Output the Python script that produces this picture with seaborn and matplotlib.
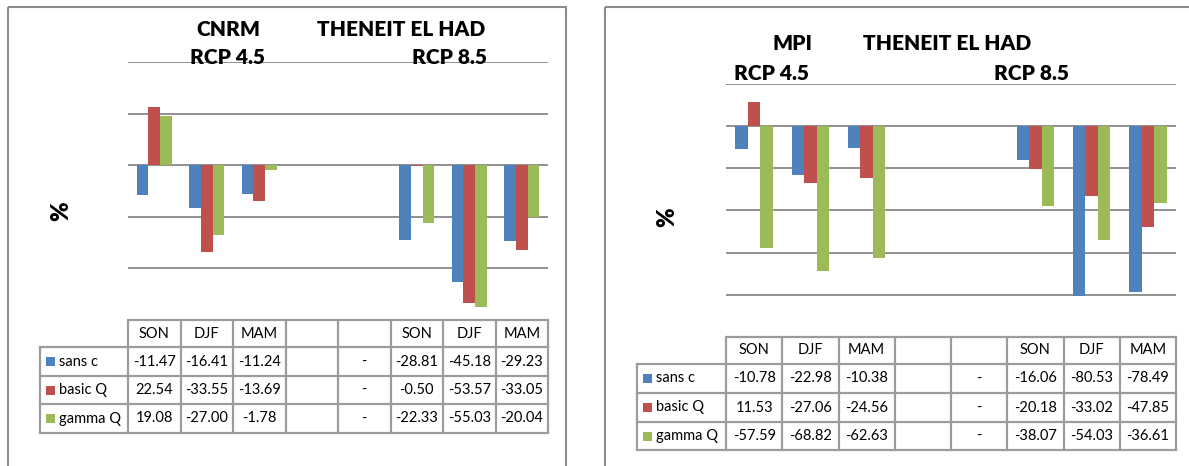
import numpy as np
import pandas as pd
import matplotlib
matplotlib.use("Agg")
import matplotlib.pyplot as plt
from matplotlib.patches import Rectangle
import seaborn as sns

nan = np.nan

# Season columns (two empty separator columns between the scenarios)
seasons = ["SON", "DJF", "MAM", "", "", "SON", "DJF", "MAM"]
separator_text = {3: "", 4: "-"}
series = ["sans c", "basic Q", "gamma Q"]
colors = ["#4F81BD", "#C0504D", "#9BBB59"]

# CNRM, Theneit El Had
cnrm_sans_c = [-11.47, -16.41, -11.24, nan, nan, -28.81, -45.18, -29.23]
cnrm_basic_q = [22.54, -33.55, -13.69, nan, nan, -0.50, -53.57, -33.05]
cnrm_gamma_q = [19.08, -27.00, -1.78, nan, nan, -22.33, -55.03, -20.04]

# MPI, Theneit El Had
mpi_sans_c = [-10.78, -22.98, -10.38, nan, nan, -16.06, -80.53, -78.49]
mpi_basic_q = [11.53, -27.06, -24.56, nan, nan, -20.18, -33.02, -47.85]
mpi_gamma_q = [-57.59, -68.82, -62.63, nan, nan, -38.07, -54.03, -36.61]

W, H = 1189, 466
GRID = "#878787"
TABLE = "#9c9c9c"
FRAME = "#8c8c8c"

sns.set_theme(style="white")
plt.rcParams["font.family"] = ["Lato", "DejaVu Sans"]

fig = plt.figure(figsize=(W / 100, H / 100), dpi=100)
fig.patch.set_facecolor("white")

# Overlay in pixel coordinates for frames, titles and the data table
ov = fig.add_axes([0, 0, 1, 1], zorder=5)
ov.set_xlim(0, W)
ov.set_ylim(H, 0)
ov.axis("off")


def draw_panel(values, ylim, yticks, box, rows, label_left, frame, titles, pct_pos):
    x0, y0, x1, y1 = box
    ax = fig.add_axes([x0 / W, 1 - y1 / H, (x1 - x0) / W, (y1 - y0) / H])
    slots = [str(i) for i in range(len(seasons))]
    records = []
    for name, vals in zip(series, values):
        for s, v in zip(slots, vals):
            if not np.isnan(v):
                records.append({"slot": s, "value": v, "series": name})
    df = pd.DataFrame(records)
    sns.barplot(data=df, x="slot", y="value", hue="series", order=slots,
                hue_order=series, palette=dict(zip(series, colors)),
                width=0.67, saturation=1, linewidth=0, errorbar=None,
                legend=False, ax=ax, zorder=3)
    ax.set_xlim(-0.5, len(slots) - 0.5)
    ax.set_ylim(*ylim)
    ax.set_yticks(yticks)
    ax.grid(axis="y", color=GRID, linewidth=1.3)
    ax.grid(axis="x", visible=False)
    ax.set_axisbelow(True)
    for sp in ax.spines.values():
        sp.set_visible(False)
    ax.tick_params(left=False, bottom=False, labelleft=False, labelbottom=False)
    ax.set_xlabel("")
    ax.set_ylabel("")
    ax.patch.set_alpha(0)

    # panel frame
    fx0, fy0, fx1 = frame
    ov.add_patch(Rectangle((fx0, fy0), fx1 - fx0, H + 10 - fy0, fill=False,
                           edgecolor=FRAME, linewidth=1.5))

    # titles
    for text, tx, ty in titles:
        ov.text(tx, ty, text, ha="center", va="center", fontsize=15,
                fontweight="heavy", color="black")
    ov.text(pct_pos[0], pct_pos[1], "%", ha="center", va="center", fontsize=17,
            fontweight="heavy", rotation=90, color="black")

    # data table
    n = len(seasons)
    edges = [x0 + (x1 - x0) * i / n for i in range(n + 1)]
    top, head_bot = rows[0], rows[1]
    bottom = rows[-1]
    ov.plot([x0, x1], [top, top], color=TABLE, lw=1.6, solid_capstyle="projecting")
    for y in rows[1:]:
        ov.plot([label_left, x1], [y, y], color=TABLE, lw=1.6, solid_capstyle="projecting")
    for xe in edges:
        ov.plot([xe, xe], [top, bottom], color=TABLE, lw=1.6)
    ov.plot([label_left, label_left], [head_bot, bottom], color=TABLE, lw=1.6)

    for i, s in enumerate(seasons):
        cx = (edges[i] + edges[i + 1]) / 2
        ov.text(cx, (top + head_bot) / 2, s, ha="center", va="center",
                fontsize=10.5, color="black")
    for r, (name, vals, col) in enumerate(zip(series, values, colors)):
        ya, yb = rows[r + 1], rows[r + 2]
        cy = (ya + yb) / 2
        ov.add_patch(Rectangle((label_left + 6, cy - 4.5), 9, 9,
                               facecolor=col, edgecolor="none"))
        ov.text(label_left + 19, cy, name, ha="left", va="center",
                fontsize=10.5, color="black")
        for i, v in enumerate(vals):
            cx = (edges[i] + edges[i + 1]) / 2
            txt = separator_text.get(i, "") if np.isnan(v) else f"{v:.2f}"
            ov.text(cx, cy, txt, ha="center", va="center", fontsize=10.5,
                    color="black")


draw_panel(values=[cnrm_sans_c, cnrm_basic_q, cnrm_gamma_q],
           ylim=(-60, 40), yticks=[40, 20, 0, -20, -40],
           box=(128, 62, 548, 320),
           rows=[320, 347, 376, 404, 433], label_left=40,
           frame=(8, 7, 566),
           titles=[("CNRM", 228, 29), ("THENEIT EL HAD", 401, 29),
                   ("RCP 4.5", 228, 57), ("RCP 8.5", 450, 57)],
           pct_pos=(61, 211))

draw_panel(values=[mpi_sans_c, mpi_basic_q, mpi_gamma_q],
           ylim=(-100, 20), yticks=[20, 0, -20, -40, -60, -80],
           box=(726, 84, 1176, 337),
           rows=[337, 364, 393, 422, 450], label_left=637,
           frame=(605, 7, 1200),
           titles=[("MPI", 793, 44), ("THENEIT EL HAD", 947, 44),
                   ("RCP 4.5", 772, 73), ("RCP 8.5", 1031, 73)],
           pct_pos=(667, 217))

fig.savefig("out.png", dpi=100, facecolor="white")
